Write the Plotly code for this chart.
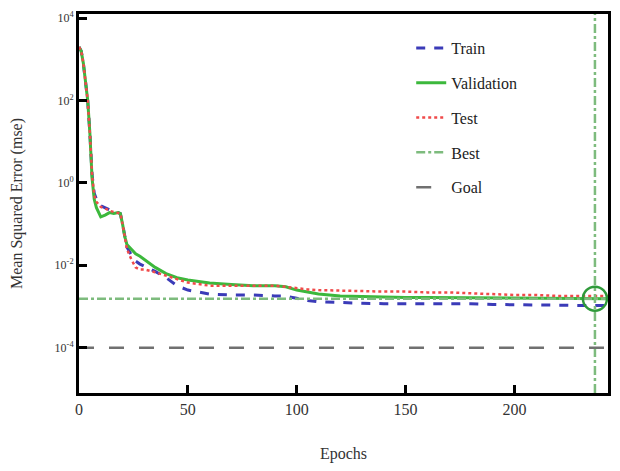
import plotly.graph_objects as go

epochs = [0, 1, 2, 3, 4, 5, 6, 7, 8, 10, 12, 14, 16, 18, 19, 20, 21, 22, 24, 26, 28, 30,
          35, 40, 45, 50, 55, 60, 70, 80, 90, 95, 100, 105, 110, 120, 130, 140, 150,
          160, 170, 180, 190, 200, 210, 220, 230, 237, 243]

train_mse = [2000, 1600, 800, 250, 100, 16, 1.6, 0.56, 0.4, 0.28, 0.25, 0.22, 0.2, 0.19, 0.18,
             0.1, 0.05, 0.028, 0.018, 0.0126, 0.0107, 0.0095,
             0.0071, 0.005, 0.0032, 0.0025, 0.0022, 0.002, 0.0019, 0.0019, 0.0018, 0.00178,
             0.00158, 0.0014, 0.0013, 0.00123, 0.0012, 0.00117, 0.00117,
             0.00117, 0.00117, 0.00117, 0.00112, 0.0011, 0.00107, 0.00105, 0.00105, 0.00105, 0.00107]

val_mse = [2000, 1600, 800, 250, 100, 16, 1.3, 0.4, 0.25, 0.15, 0.165, 0.19, 0.18, 0.19, 0.18,
           0.1, 0.05, 0.032, 0.024, 0.019, 0.0166, 0.014,
           0.0089, 0.0063, 0.005, 0.0044, 0.004, 0.0037, 0.0034, 0.0032, 0.0032, 0.003,
           0.0025, 0.0022, 0.002, 0.0018, 0.00174, 0.00172, 0.00166,
           0.00166, 0.00164, 0.00162, 0.0016, 0.00158, 0.00157, 0.00156, 0.00155, 0.00155, 0.00155]

test_mse = [2000, 1600, 800, 250, 100, 16, 1.6, 0.5, 0.35, 0.26, 0.24, 0.21, 0.2, 0.19, 0.18,
            0.1, 0.05, 0.025, 0.014, 0.0089, 0.0079, 0.0079,
            0.0068, 0.0056, 0.0045, 0.0038, 0.0035, 0.0032, 0.0032, 0.0032, 0.0032, 0.003,
            0.00275, 0.0026, 0.0025, 0.0024, 0.0024, 0.0023, 0.0023,
            0.0022, 0.0022, 0.0021, 0.002, 0.0019, 0.0019, 0.0018, 0.0018, 0.0018, 0.0018]

best_epoch = 237
best_mse = 0.00155
goal_mse = 1e-4
max_epoch = 243

y_ticks = [1e-4, 1e-2, 1, 1e2, 1e4]
y_tick_text = ['10<sup>-4</sup>', '10<sup>-2</sup>', '10<sup>0</sup>', '10<sup>2</sup>', '10<sup>4</sup>']
x_ticks = [0, 50, 100, 150, 200]

serif = 'Liberation Serif'

fig = go.Figure()

fig.add_trace(go.Scatter(x=epochs, y=train_mse, mode='lines', name='Train',
                         line=dict(color='#3b3bb8', width=3, dash='dash'), legendgroup='a'))
fig.add_trace(go.Scatter(x=epochs, y=val_mse, mode='lines', name='Validation',
                         line=dict(color='#3cb83c', width=3), legendgroup='b'))
fig.add_trace(go.Scatter(x=epochs, y=test_mse, mode='lines', name='Test',
                         line=dict(color='#f04a4a', width=2.5, dash='dot'), legendgroup='c'))

# best lines: horizontal at best mse, vertical at best epoch
fig.add_trace(go.Scatter(x=[0, max_epoch, None, best_epoch, best_epoch],
                         y=[best_mse, best_mse, None, 10 ** -5.1, 10 ** 4.1],
                         mode='lines', name='Best',
                         line=dict(color='#7dbb7d', width=2.5, dash='dashdot'), legendgroup='d'))
fig.add_trace(go.Scatter(x=[0, max_epoch], y=[goal_mse, goal_mse], mode='lines', name='Goal',
                         line=dict(color='#707070', width=2.5, dash='longdash'), legendgroup='e'))

# circle around best validation point
fig.add_trace(go.Scatter(x=[best_epoch], y=[best_mse], mode='markers', showlegend=False,
                         marker=dict(size=24, color='rgba(0,0,0,0)',
                                     line=dict(color='#2f9a3a', width=2.5))))

fig.update_xaxes(range=[0, max_epoch], tickvals=x_ticks, ticks='inside', ticklen=8, tickwidth=3,
                 tickcolor='black', showline=True, linecolor='black', linewidth=3, mirror=True,
                 showgrid=False, zeroline=False, automargin=False,
                 tickfont=dict(family=serif, size=16, color='#333'),
                 title=dict(text='Epochs', font=dict(family=serif, size=16, color='#333'), standoff=36))
fig.update_yaxes(type='log', range=[-5.1, 4.1], tickvals=y_ticks, ticktext=y_tick_text,
                 ticks='inside', ticklen=8, tickwidth=3, tickcolor='black', showline=True,
                 linecolor='black', linewidth=3, mirror=True, showgrid=False, zeroline=False,
                 automargin=False, tickfont=dict(family=serif, size=12, color='#333'),
                 title=dict(text='Mean Squared Error (mse)', font=dict(family=serif, size=16, color='#333'),
                            standoff=30))

fig.update_layout(
    width=604, height=455,
    margin=dict(l=71, r=4, t=6, b=70),
    plot_bgcolor='white', paper_bgcolor='white',
    legend=dict(x=0.628, y=0.955, xanchor='left', yanchor='top', bgcolor='rgba(0,0,0,0)',
                font=dict(family=serif, size=16, color='#222'), tracegroupgap=11),
)

fig.write_html("out.html")
